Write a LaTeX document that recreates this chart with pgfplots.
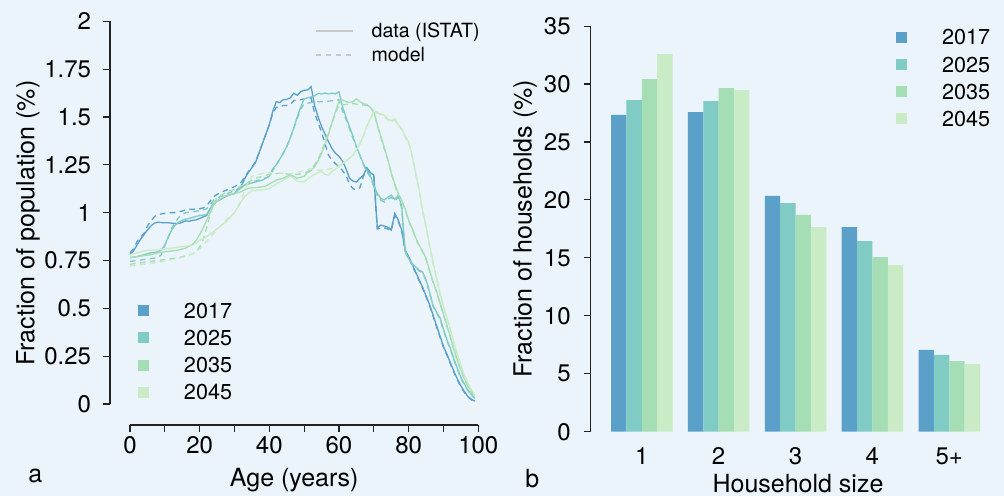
\documentclass[border=0pt]{standalone}
\usepackage{pgfplots}
\pgfplotsset{compat=1.18}
\usepackage{fontspec}
\setmainfont{TeX Gyre Heros}
\definecolor{bg}{HTML}{EAF4FA}
\definecolor{c17}{HTML}{5AA0C8}
\definecolor{c25}{HTML}{80CBC4}
\definecolor{c35}{HTML}{A5DDB5}
\definecolor{c45}{HTML}{C9EBC5}
\definecolor{axc}{HTML}{222222}
\definecolor{lgray}{HTML}{C8C8C8}
\pgfplotsset{
  rstyle/.style={
    scale only axis, anchor=south west,
    axis line style={draw=none},
    xtick pos=bottom, ytick pos=left,
    tick align=outside, major tick length=3.3pt,
    every tick/.style={draw=axc, line width=0.55pt},
    /pgf/number format/assume math mode=true,
    tick label style={font=\fontsize{12}{14}\selectfont, inner sep=0pt, text=black},
  },
  sqlegend/.style={
    legend image code/.code={\fill[##1, draw=none] (0pt,-2.75pt) rectangle (5.5pt,2.75pt); \path[draw=none, fill=none] (5.5pt,0pt) -- (23pt,0pt);},
    legend cell align=left,
    legend style={draw=none, fill=none, inner sep=0pt, outer sep=0pt, row sep=6pt, /tikz/column sep=0pt,
      font=\fontsize{10.8}{12}\selectfont, nodes={inner sep=0pt, text height=7.6pt, text depth=0pt}},
  },
}
\begin{document}
\begin{tikzpicture}
\path[use as bounding box, fill=bg] (0,0) rectangle (502pt,248pt);
% ---------- left panel ----------
\begin{axis}[rstyle, sqlegend,
  at={(55pt,35.5pt)}, width=184.15pt, height=201.85pt,
  xmin=-5.742, xmax=100, ymin=-0.10975, ymax=2,
  clip=false,
  xtick={0,10,20,30,40,50,60,70,80,90,100},
  xticklabels={0,,20,,40,,60,,80,,100},
  ytick={0,0.25,0.5,0.75,1,1.25,1.5,1.75,2},
  yticklabels={0,0.25,0.5,0.75,1,1.25,1.5,1.75,2},
  xticklabel style={anchor=base, yshift=-11.2pt},
  yticklabel style={anchor=east, xshift=-5.85pt},
  xlabel={Age (years)}, ylabel={Fraction of population (\%)},
  every axis x label/.style={at={([yshift=-30.85pt]rel axis cs:0.5,0)}, anchor=base, font=\fontsize{12.5}{14}\selectfont},
  every axis y label/.style={at={([xshift=-41pt]rel axis cs:0,0.5)}, anchor=center, rotate=90, font=\fontsize{12.5}{14}\selectfont},
  legend style={at={(0.0760,0.3020)}, anchor=north west},
  line width=0.65pt,
]
\draw[axc, line width=0.55pt] (axis cs:-5.742,0) -- (axis cs:-5.742,2);
\draw[axc, line width=0.55pt] (axis cs:0,-0.10975) -- (axis cs:100,-0.10975);
\addlegendimage{fill=c17, draw=none}\addlegendentry{2017}
\addlegendimage{fill=c25, draw=none}\addlegendentry{2025}
\addlegendimage{fill=c35, draw=none}\addlegendentry{2035}
\addlegendimage{fill=c45, draw=none}\addlegendentry{2045}
% 2017 data
\addplot[c17, forget plot] coordinates {(0,0.78)(1,0.80)(2,0.83)(3,0.86)(4,0.885)(5,0.91)(6,0.93)(7,0.945)(8,0.95)(9,0.948)(10,0.947)(11,0.947)(12,0.945)(13,0.943)(14,0.943)(15,0.95)(16,0.957)(17,0.955)(18,0.96)(19,0.962)(20,0.97)(21,0.978)(22,0.985)(23,1.02)(24,1.045)(25,1.06)(26,1.07)(27,1.08)(28,1.09)(29,1.095)(30,1.10)(31,1.12)(32,1.14)(33,1.18)(34,1.21)(35,1.235)(36,1.26)(37,1.31)(38,1.36)(39,1.41)(40,1.46)(41,1.53)(42,1.58)(43,1.575)(44,1.59)(45,1.592)(46,1.60)(47,1.623)(48,1.614)(49,1.632)(50,1.64)(51,1.641)(52,1.658)(53,1.56)(54,1.50)(55,1.45)(56,1.41)(57,1.37)(58,1.335)(59,1.31)(60,1.295)(61,1.27)(62,1.23)(63,1.18)(64,1.165)(65,1.16)(66,1.18)(67,1.195)(68,1.235)(69,1.21)(70,1.195)(71,0.92)(72,0.935)(73,0.93)(74,0.925)(75,0.909)(76,0.996)(77,0.962)(78,0.909)(79,0.805)(80,0.77)(81,0.73)(82,0.69)(83,0.65)(84,0.61)(85,0.565)(86,0.52)(87,0.465)(88,0.41)(89,0.355)(90,0.30)(91,0.26)(92,0.215)(93,0.17)(94,0.13)(95,0.095)(96,0.065)(97,0.04)(98,0.025)(99,0.015)};
% 2017 model
\addplot[c17, forget plot, dash pattern=on 2.8pt off 2.2pt] coordinates {(0,0.79)(1,0.81)(2,0.848)(3,0.87)(4,0.891)(5,0.93)(6,0.955)(7,0.979)(8,0.99)(9,0.993)(10,0.996)(11,0.998)(12,1.0)(13,1.0)(14,1.005)(15,1.008)(16,1.015)(17,1.017)(18,1.017)(19,1.017)(20,1.02)(21,1.025)(22,1.035)(23,1.06)(24,1.083)(25,1.095)(26,1.105)(27,1.113)(28,1.12)(29,1.127)(30,1.136)(31,1.145)(32,1.16)(33,1.19)(34,1.215)(35,1.24)(36,1.265)(37,1.31)(38,1.36)(39,1.41)(40,1.46)(41,1.52)(42,1.55)(43,1.555)(44,1.56)(45,1.56)(46,1.565)(47,1.585)(48,1.589)(49,1.59)(50,1.595)(51,1.597)(52,1.60)(53,1.52)(54,1.47)(55,1.42)(56,1.36)(57,1.30)(58,1.275)(59,1.256)(60,1.24)(61,1.22)(62,1.195)(63,1.15)(64,1.125)(65,1.12)(66,1.13)(67,1.19)(68,1.225)(69,1.205)(70,1.19)(71,0.915)(72,0.92)(73,0.92)(74,0.915)(75,0.905)(76,0.985)(77,0.955)(78,0.905)(79,0.80)(80,0.765)(81,0.725)(82,0.685)(83,0.645)(84,0.605)(85,0.56)(86,0.515)(87,0.46)(88,0.405)(89,0.35)(90,0.295)(91,0.255)(92,0.21)(93,0.165)(94,0.125)(95,0.09)(96,0.06)(97,0.038)(98,0.022)(99,0.012)};
% 2025 data
\addplot[c25, forget plot] coordinates {(0,0.765)(1,0.767)(2,0.77)(3,0.775)(4,0.78)(5,0.785)(6,0.79)(7,0.792)(8,0.795)(9,0.805)(10,0.83)(11,0.874)(12,0.91)(13,0.935)(14,0.95)(15,0.96)(16,0.966)(17,0.97)(18,0.975)(19,0.98)(20,0.985)(21,0.987)(22,0.99)(23,1.02)(24,1.05)(25,1.06)(26,1.07)(27,1.085)(28,1.09)(29,1.095)(30,1.10)(31,1.118)(32,1.13)(33,1.145)(34,1.15)(35,1.155)(36,1.16)(37,1.165)(38,1.17)(39,1.18)(40,1.19)(41,1.23)(42,1.25)(43,1.28)(44,1.31)(45,1.345)(46,1.39)(47,1.44)(48,1.50)(49,1.55)(50,1.595)(51,1.60)(52,1.605)(53,1.61)(54,1.623)(55,1.62)(56,1.625)(57,1.62)(58,1.625)(59,1.62)(60,1.632)(61,1.554)(62,1.50)(63,1.45)(64,1.40)(65,1.345)(66,1.30)(67,1.257)(68,1.22)(69,1.195)(70,1.14)(71,1.10)(72,1.075)(73,1.066)(74,1.08)(75,1.092)(76,1.07)(77,1.09)(78,1.035)(79,0.80)(80,0.76)(81,0.735)(82,0.717)(83,0.70)(84,0.69)(85,0.65)(86,0.585)(87,0.515)(88,0.48)(89,0.45)(90,0.39)(91,0.335)(92,0.29)(93,0.235)(94,0.185)(95,0.14)(96,0.105)(97,0.073)(98,0.05)(99,0.03)};
% 2025 model
\addplot[c25, forget plot, dash pattern=on 2.8pt off 2.2pt] coordinates {(0,0.745)(2,0.75)(4,0.755)(6,0.76)(8,0.765)(9,0.78)(10,0.83)(11,0.87)(12,0.92)(13,0.95)(14,0.975)(15,0.99)(16,1.0)(18,1.005)(20,1.01)(22,1.02)(23,1.04)(24,1.065)(26,1.085)(28,1.10)(30,1.115)(32,1.135)(34,1.155)(36,1.165)(38,1.175)(40,1.19)(41,1.22)(42,1.25)(43,1.28)(44,1.31)(45,1.345)(46,1.39)(47,1.44)(48,1.49)(49,1.54)(50,1.57)(51,1.572)(52,1.575)(54,1.58)(56,1.58)(58,1.585)(60,1.59)(61,1.53)(62,1.49)(63,1.44)(64,1.39)(65,1.34)(66,1.30)(67,1.25)(68,1.215)(69,1.185)(70,1.135)(71,1.09)(72,1.065)(73,1.055)(74,1.07)(75,1.08)(76,1.06)(77,1.08)(78,1.025)(79,0.795)(80,0.755)(81,0.73)(82,0.712)(83,0.695)(84,0.685)(85,0.645)(86,0.58)(87,0.51)(88,0.475)(89,0.445)(90,0.385)(91,0.33)(92,0.285)(93,0.23)(94,0.18)(95,0.135)(96,0.1)(97,0.07)(98,0.047)(99,0.028)};
% 2035 data
\addplot[c35, forget plot] coordinates {(0,0.765)(2,0.77)(4,0.775)(6,0.78)(8,0.79)(10,0.795)(12,0.80)(14,0.805)(16,0.815)(17,0.825)(18,0.835)(19,0.855)(20,0.885)(21,0.92)(22,0.96)(23,1.0)(24,1.04)(25,1.06)(26,1.075)(27,1.083)(28,1.09)(29,1.095)(30,1.10)(31,1.105)(32,1.11)(33,1.12)(34,1.127)(35,1.13)(36,1.13)(37,1.133)(38,1.135)(39,1.14)(40,1.15)(41,1.16)(42,1.17)(43,1.175)(44,1.18)(45,1.19)(46,1.195)(47,1.19)(48,1.18)(49,1.185)(50,1.19)(51,1.21)(52,1.22)(53,1.24)(54,1.27)(55,1.31)(56,1.36)(57,1.41)(58,1.47)(59,1.53)(60,1.58)(61,1.59)(62,1.58)(63,1.575)(64,1.58)(65,1.595)(66,1.58)(67,1.57)(68,1.565)(69,1.55)(70,1.53)(71,1.46)(72,1.40)(73,1.34)(74,1.28)(75,1.21)(76,1.15)(77,1.10)(78,1.065)(79,1.02)(80,0.96)(81,0.92)(82,0.87)(83,0.83)(84,0.80)(85,0.76)(86,0.70)(87,0.64)(88,0.59)(89,0.53)(90,0.47)(91,0.41)(92,0.35)(93,0.285)(94,0.23)(95,0.18)(96,0.135)(97,0.095)(98,0.065)(99,0.045)};
% 2035 model
\addplot[c35, forget plot, dash pattern=on 2.8pt off 2.2pt] coordinates {(0,0.73)(4,0.74)(8,0.75)(12,0.76)(14,0.765)(16,0.775)(18,0.785)(19,0.795)(20,0.82)(21,0.86)(22,0.92)(23,0.99)(24,1.05)(25,1.075)(26,1.09)(28,1.11)(30,1.12)(32,1.14)(34,1.16)(36,1.18)(38,1.19)(40,1.20)(42,1.205)(44,1.205)(46,1.20)(48,1.20)(50,1.205)(51,1.215)(52,1.23)(53,1.25)(54,1.28)(55,1.32)(56,1.37)(57,1.42)(58,1.47)(59,1.52)(60,1.56)(62,1.565)(64,1.57)(66,1.565)(68,1.56)(69,1.55)(70,1.525)(71,1.455)(72,1.395)(73,1.335)(74,1.275)(75,1.205)(76,1.145)(77,1.095)(78,1.06)(79,1.015)(80,0.955)(81,0.915)(82,0.865)(83,0.825)(84,0.795)(85,0.755)(86,0.695)(87,0.635)(88,0.585)(89,0.525)(90,0.465)(91,0.405)(92,0.345)(93,0.28)(94,0.225)(95,0.175)(96,0.13)(97,0.09)(98,0.06)(99,0.04)};
% 2045 data
\addplot[c45, forget plot] coordinates {(0,0.78)(2,0.79)(4,0.80)(6,0.805)(8,0.805)(10,0.81)(12,0.815)(14,0.82)(16,0.825)(18,0.83)(19,0.84)(20,0.855)(22,0.875)(24,0.90)(26,0.93)(28,0.96)(29,0.98)(30,1.00)(31,1.03)(32,1.06)(33,1.085)(34,1.10)(35,1.115)(36,1.115)(38,1.12)(40,1.125)(42,1.15)(44,1.17)(46,1.19)(47,1.18)(48,1.165)(50,1.16)(52,1.19)(54,1.21)(55,1.215)(56,1.20)(57,1.195)(58,1.215)(60,1.24)(62,1.27)(64,1.30)(65,1.33)(66,1.36)(67,1.40)(68,1.45)(69,1.49)(70,1.53)(71,1.525)(72,1.515)(73,1.51)(74,1.49)(75,1.48)(76,1.49)(77,1.46)(78,1.44)(79,1.40)(80,1.37)(81,1.30)(82,1.21)(83,1.12)(84,1.01)(85,0.93)(86,0.83)(87,0.74)(88,0.66)(89,0.58)(90,0.51)(91,0.45)(92,0.39)(93,0.32)(94,0.26)(95,0.20)(96,0.15)(97,0.11)(98,0.075)(99,0.05)};
% 2045 model
\addplot[c45, forget plot, dash pattern=on 2.8pt off 2.2pt] coordinates {(0,0.72)(4,0.73)(8,0.74)(12,0.755)(16,0.77)(18,0.785)(20,0.81)(22,0.85)(24,0.89)(26,0.93)(28,0.97)(30,1.00)(31,1.03)(32,1.07)(33,1.12)(34,1.16)(35,1.19)(38,1.205)(41,1.21)(44,1.205)(47,1.205)(50,1.22)(52,1.23)(54,1.22)(56,1.225)(58,1.23)(60,1.245)(62,1.27)(64,1.30)(65,1.33)(66,1.36)(67,1.40)(68,1.45)(69,1.49)(70,1.525)(71,1.52)(72,1.51)(73,1.505)(74,1.485)(75,1.475)(76,1.485)(77,1.455)(78,1.435)(79,1.395)(80,1.365)(81,1.295)(82,1.205)(83,1.115)(84,1.005)(85,0.925)(86,0.825)(87,0.735)(88,0.655)(89,0.575)(90,0.505)(91,0.445)(92,0.385)(93,0.315)(94,0.255)(95,0.195)(96,0.145)(97,0.105)(98,0.07)(99,0.045)};
\end{axis}
% data/model legend overlay
\begin{axis}[scale only axis, anchor=south west, at={(55pt,35.5pt)}, width=184.15pt, height=201.85pt,
  xmin=-5.742, xmax=100, ymin=-0.10975, ymax=2, hide axis,
  legend image code/.code={\draw[#1] (0pt,0pt) -- (18.5pt,0pt); \path[draw=none] (18.5pt,0pt) -- (28pt,0pt);},
  legend cell align=left,
  legend style={at={(0.5566,0.9933)}, anchor=north west, draw=none, fill=none, inner sep=0pt, outer sep=0pt,
    row sep=5pt, /tikz/column sep=0pt, font=\fontsize{9.8}{11}\selectfont,
    nodes={inner sep=0pt, text height=7pt, text depth=0pt}},
]
\addlegendimage{color=lgray, line width=0.65pt}
\addlegendentry{data (ISTAT)}
\addlegendimage{color=lgray, line width=0.65pt, dash pattern=on 2.8pt off 2.2pt}
\addlegendentry{model}
\end{axis}
% ---------- right panel ----------
\begin{axis}[rstyle, sqlegend,
  at={(295.35pt,32.15pt)}, width=198.5pt, height=202.8pt,
  xmin=-0.32, xmax=25.5, ymin=0, ymax=35,
  clip=false,
  xtick={3,8,13,18,23}, xticklabels={1,2,3,4,5+},
  major x tick style={draw=none},
  ytick={0,5,10,15,20,25,30,35},
  yticklabels={0,5,10,15,20,25,30,35},
  xticklabel style={anchor=base, yshift=-13.35pt},
  yticklabel style={anchor=east, xshift=-6.55pt},
  xlabel={Household size}, ylabel={Fraction of households (\%)},
  every axis x label/.style={at={([xshift=4.4pt,yshift=-30.5pt]rel axis cs:0.5,0)}, anchor=base, font=\fontsize{12.5}{14}\selectfont},
  every axis y label/.style={at={([xshift=-32.85pt]rel axis cs:0,0.5)}, anchor=center, rotate=90, font=\fontsize{12.5}{14}\selectfont},
  legend style={at={(0.769,0.991)}, anchor=north west},
]
\draw[axc, line width=0.55pt] (axis cs:-0.32,0) -- (axis cs:-0.32,35);
\addplot[ybar, bar width=1, bar shift=0pt, fill=c17, draw=none] coordinates {(1.5,27.33)(6.5,27.58)(11.5,20.34)(16.5,17.66)(21.5,7.05)};
\addlegendentry{2017}
\addplot[ybar, bar width=1, bar shift=0pt, fill=c25, draw=none] coordinates {(2.5,28.62)(7.5,28.53)(12.5,19.73)(17.5,16.45)(22.5,6.62)};
\addlegendentry{2025}
\addplot[ybar, bar width=1, bar shift=0pt, fill=c35, draw=none] coordinates {(3.5,30.43)(8.5,29.65)(13.5,18.70)(18.5,15.07)(23.5,6.10)};
\addlegendentry{2035}
\addplot[ybar, bar width=1, bar shift=0pt, fill=c45, draw=none] coordinates {(4.5,32.59)(9.5,29.48)(14.5,17.66)(19.5,14.38)(24.5,5.84)};
\addlegendentry{2045}
\end{axis}
\node[anchor=base west, font=\fontsize{12.5}{14}\selectfont, inner sep=0pt] at (14pt,6.5pt) {a};
\node[anchor=base west, font=\fontsize{12.5}{14}\selectfont, inner sep=0pt] at (262.5pt,4pt) {b};
\end{tikzpicture}
\end{document}
